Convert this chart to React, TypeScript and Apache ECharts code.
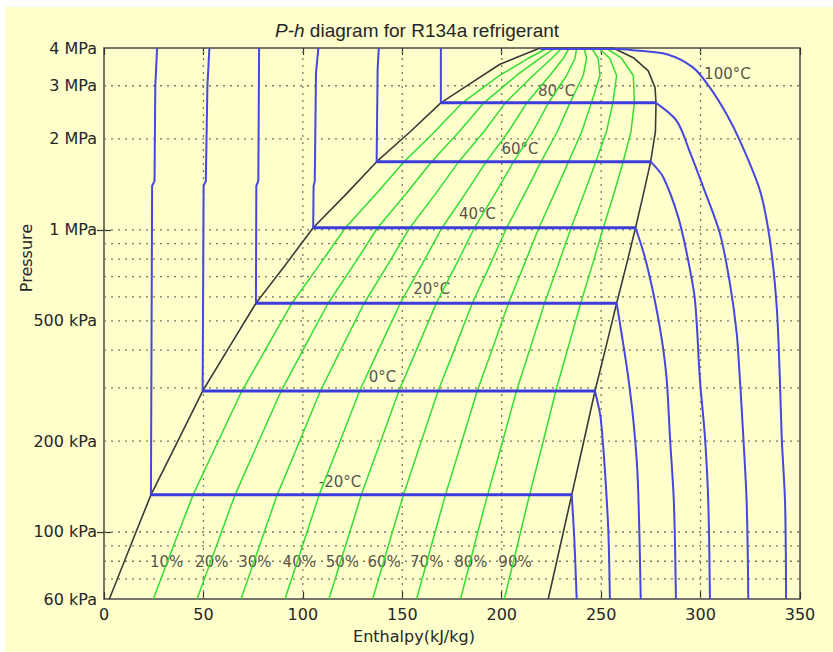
import React, { useEffect, useRef } from 'react';
import * as echarts from 'echarts';

// ---------- axis ticks ----------
const xMin = 0;
const xMax = 350;
const xInterval = 50;
const pMin = 60; // kPa
const pMax = 4000; // kPa
const yTickValues = [60, 100, 200, 500, 1000, 2000, 3000, 4000];
const yTickLabels = ['60 kPa', '100 kPa', '200 kPa', '500 kPa', '1 MPa', '2 MPa', '3 MPa', '4 MPa'];
const yMajorTicks = [100, 1000];
const hGridPressures = [70, 80, 90, 100, 200, 300, 400, 500, 600, 700, 800, 900, 1000, 2000, 3000];
const vGridEnthalpy = [50, 100, 150, 200, 250, 300];

// ---------- saturation dome (h kJ/kg, P kPa) ----------
const liquidP = [60, 100, 132.7, 200, 292.8, 414.6, 571.7, 770.2, 1016.6, 1317.9, 1681.8, 2116.8, 2633.2, 2997, 3534, 4000];
const liquidH = [2.7, 16.1, 23.6, 37.1, 49.6, 63.5, 76.4, 91.5, 105.2, 122.0, 137.1, 154.1, 169.4, 182.4, 199.1, 219.3];
const vaporP = [60, 100, 132.7, 200, 292.8, 414.6, 571.7, 770.2, 1016.6, 1317.9, 1681.8, 2116.8, 2633.2, 2958, 3360, 3716, 4000];
const vaporH = [223.4, 231.0, 235.2, 241.3, 246.9, 252.6, 257.8, 262.8, 267.3, 271.3, 274.9, 277.3, 277.6, 277.1, 273.7, 266.2, 256.1];

// ---------- isotherms ----------
const satTemps = ['-20°C', '0°C', '20°C', '40°C', '60°C', '80°C'];
const satPressure = [132.7, 292.8, 571.7, 1016.6, 1681.8, 2633.2];
const satLiquidH = [23.6, 49.6, 76.4, 105.2, 137.1, 169.4];
const satVaporH = [235.2, 246.9, 257.8, 267.3, 274.9, 277.6];
// compressed-liquid part, from the top of the chart down to saturation
const liquidParts = [
  [[26.7, 4000], [25.8, 3000], [25.4, 1450], [24.2, 1400]],
  [[53.0, 4000], [52.0, 3000], [51.2, 1450], [50.1, 1400]],
  [[78.0, 4000], [77.6, 1450], [76.6, 1400]],
  [[107.8, 4000], [106.6, 3300], [106.0, 1450], [105.4, 1400]],
  [[138.2, 4000], [137.6, 3400]],
  [[169.4, 4000]],
];
// superheated part, from saturated vapour down to 60 kPa
const superheatParts = [
  [[236.5, 95], [237.7, 60]],
  [[249.4, 247], [250.3, 220], [251.9, 160.1], [253.6, 101.4], [254.4, 60]],
  [[260.3, 453], [263.5, 330], [266.2, 234.2], [268.2, 160.1], [269.2, 101.4], [269.9, 60]],
  [[272.0, 811], [277.0, 584], [280.6, 430], [283.0, 317.5], [284.6, 206.3], [286.6, 124.3], [287.6, 60]],
  [[281.3, 1491], [288.8, 1100], [293.8, 791], [297.2, 584], [299.7, 317.5], [302.2, 206.3], [303.9, 124.3], [304.7, 60]],
  [[288.0, 2296], [294.4, 1827], [301.4, 1382], [309.8, 969], [314.8, 663], [318.2, 453], [319.8, 317.5], [321.5, 206.3], [323.2, 124.3], [324.0, 60]],
];
const iso100 = [[219.3, 3972], [258.0, 3972], [266.2, 3932], [283.0, 3814], [296.3, 3444], [304.7, 2958], [313.1, 2416], [319.8, 1972], [329.9, 1348], [334.9, 921], [338.3, 555], [339.9, 317.5], [340.8, 206.3], [342.5, 124.3], [343.0, 60]];

// ---------- constant quality lines ----------
const qualityNames = ['10%', '20%', '30%', '40%', '50%', '60%', '70%', '80%', '90%'];
const qualityP = [60, 100, 132.7, 200, 292.8, 414.6, 571.7, 770.2, 1016.6, 1317.9, 1681.8, 2116.8, 2633.2, 3244.2, 3700, 4000];
const qualityH = [
  [24.8, 37.6, 44.8, 57.5, 69.3, 82.4, 94.5, 108.6, 121.4, 136.9, 150.9, 166.4, 180.2, 199.0, 213.5, 223.0],
  [46.8, 59.1, 65.9, 77.9, 89.1, 101.3, 112.7, 125.8, 137.6, 151.9, 164.7, 178.7, 191.0, 207.4, 219.4, 226.7],
  [68.9, 80.6, 87.1, 98.4, 108.8, 120.2, 130.8, 142.9, 153.8, 166.8, 178.4, 191.1, 201.8, 215.8, 225.2, 230.3],
  [91.0, 102.1, 108.2, 118.8, 128.5, 139.1, 149.0, 160.0, 170.0, 181.7, 192.2, 203.4, 212.6, 224.2, 231.0, 234.0],
  [113.1, 123.6, 129.4, 139.2, 148.3, 158.1, 167.1, 177.2, 186.3, 196.7, 206.0, 215.7, 223.5, 232.6, 236.9, 237.7],
  [135.1, 145.0, 150.6, 159.6, 168.0, 177.0, 185.2, 194.3, 202.5, 211.6, 219.8, 228.0, 234.3, 241.0, 242.7, 241.4],
  [157.2, 166.5, 171.7, 180.0, 187.7, 195.9, 203.4, 211.4, 218.7, 226.5, 233.6, 240.3, 245.1, 249.4, 248.5, 245.1],
  [179.3, 188.0, 192.9, 200.5, 207.4, 214.8, 221.5, 228.5, 234.9, 241.4, 247.3, 252.7, 255.9, 257.8, 254.3, 248.7],
  [201.3, 209.5, 214.0, 220.9, 227.2, 233.7, 239.7, 245.7, 251.1, 256.4, 261.1, 265.0, 266.7, 266.2, 260.2, 252.4],
];

// ---------- annotation anchors (h, P) ----------
const tempLabelText = ['100°C', '80°C', '60°C', '40°C', '20°C', '0°C', '-20°C'];
const tempLabelH = [313.5, 227.6, 209.2, 187.8, 164.8, 140.0, 118.7];
const tempLabelP = [3276, 2885, 1851, 1129, 638, 325.6, 146.4];
const qualityLabelH = [31.5, 54.2, 75.9, 98.2, 119.9, 140.9, 162.3, 184.5, 206.7];
const qualityLabelP = 79.7;

const L = (p: number) => Math.log10(p);
const toXY = (pts: number[][]) => pts.map(([h, p]) => [h, L(p)]);

const FONT = 'DejaVu Sans';
const TEXT = '#262626';
const BG = '#FFFFCC';
const BLUE = '#4646E0';
const GREEN = '#33DD33';

export default function App() {
  const ref = useRef<HTMLDivElement>(null);

  useEffect(() => {
    if (!ref.current) return;
    const chart = echarts.init(ref.current, undefined, { renderer: 'svg' });

    const gridStyle = { color: '#77776a', width: 1.3, type: [2, 5] as any };
    const series: any[] = [];

    hGridPressures.forEach((p) => {
      series.push({
        type: 'line', silent: true, symbol: 'none',
        lineStyle: gridStyle,
        data: [[xMin, L(p)], [xMax, L(p)]],
      });
    });
    vGridEnthalpy.forEach((h) => {
      series.push({
        type: 'line', silent: true, symbol: 'none',
        lineStyle: gridStyle,
        data: [[h, L(pMin)], [h, L(pMax)]],
      });
    });

    qualityH.forEach((row, i) => {
      series.push({
        name: qualityNames[i], type: 'line', silent: true, symbol: 'none',
        lineStyle: { color: GREEN, width: 1.5 },
        data: row.map((h, j) => [h, L(qualityP[j])]),
      });
    });

    const dome = [
      ...liquidH.map((h, i) => [h, L(liquidP[i])]),
      ...vaporH.map((h, i) => [h, L(vaporP[i])]).reverse(),
    ];
    series.push({
      name: 'saturation', type: 'line', silent: true, symbol: 'none',
      lineStyle: { color: '#3a3a3a', width: 1.6 },
      data: dome,
    });

    satTemps.forEach((t, i) => {
      const sat = [[satLiquidH[i], satPressure[i]], [satVaporH[i], satPressure[i]]];
      // compressed liquid + two-phase plateau
      series.push({
        name: t, type: 'line', silent: true, symbol: 'none',
        lineStyle: { color: BLUE, width: 2 },
        data: toXY([...liquidParts[i], sat[0]]),
      });
      series.push({
        name: t, type: 'line', silent: true, symbol: 'none',
        lineStyle: { color: '#3c3cdc', width: 3 },
        data: toXY(sat),
      });
      // superheated vapour
      series.push({
        name: t, type: 'line', silent: true, symbol: 'none', smooth: 0.3,
        lineStyle: { color: BLUE, width: 2 },
        data: toXY([sat[1], ...superheatParts[i]]),
      });
    });
    series.push({
      name: '100°C', type: 'line', silent: true, symbol: 'none', smooth: 0.3,
      lineStyle: { color: BLUE, width: 2 },
      data: toXY(iso100),
    });

    series.push({
      type: 'scatter', silent: true, symbolSize: 0,
      label: { show: true, position: 'inside', formatter: '{b}', fontFamily: FONT, fontSize: 15, color: TEXT },
      data: tempLabelText.map((t, i) => ({ name: t, value: [tempLabelH[i], L(tempLabelP[i])] })),
    });
    series.push({
      type: 'scatter', silent: true, symbolSize: 0,
      label: {
        show: true, position: 'inside', formatter: '{b}', fontFamily: FONT, fontSize: 15, color: TEXT,
        backgroundColor: BG, padding: [2, 1],
      },
      data: qualityNames.map((t, i) => ({ name: t, value: [qualityLabelH[i], L(qualityLabelP)] })),
    });

    const yLabelMap: Record<string, string> = {};
    yTickValues.forEach((v, i) => { yLabelMap[String(v)] = yTickLabels[i]; });

    const xAxisBase = {
      type: 'value', min: xMin, max: xMax, interval: xInterval,
      axisLine: { show: false }, splitLine: { show: false },
      axisTick: { show: true, inside: true, length: 7, lineStyle: { color: '#333', width: 1.2 } },
    };
    const yAxisBase = {
      type: 'value', min: L(pMin), max: L(pMax),
      axisLine: { show: false }, splitLine: { show: false },
      axisTick: { show: true, inside: true, length: 7, customValues: yMajorTicks.map(L), lineStyle: { color: '#333', width: 1.2 } },
    };

    chart.setOption({
      animation: false,
      backgroundColor: BG,
      title: {
        text: '{i|P-h} diagram for R134a refrigerant',
        left: 270, top: 14, padding: 0,
        textStyle: {
          fontFamily: 'Liberation Sans', fontSize: 19, fontWeight: 'normal', color: TEXT,
          rich: { i: { fontFamily: 'Liberation Sans', fontSize: 19, fontStyle: 'italic', color: TEXT } },
        },
      },
      grid: {
        left: 99, top: 41, width: 696, height: 551,
        show: true, borderColor: '#4a4a4a', borderWidth: 1.5, backgroundColor: 'transparent',
      },
      xAxis: [
        {
          ...xAxisBase, position: 'bottom',
          axisLabel: { show: true, margin: 7, fontFamily: FONT, fontSize: 16, color: TEXT },
        },
        { ...xAxisBase, position: 'top', axisLabel: { show: false } },
      ],
      yAxis: [
        {
          ...yAxisBase, position: 'left',
          axisLabel: {
            show: true, margin: 7, fontFamily: FONT, fontSize: 16, color: TEXT,
            customValues: yTickValues.map(L),
            formatter: (v: number) => yLabelMap[String(Math.round(Math.pow(10, v)))] ?? '',
          },
        },
        { ...yAxisBase, position: 'right', axisLabel: { show: false } },
      ],
      graphic: [
        {
          type: 'text', x: 21, y: 251, rotation: Math.PI / 2,
          style: { text: 'Pressure', fontFamily: FONT, fontSize: 16, fill: TEXT, textAlign: 'center', textVerticalAlign: 'middle', align: 'center', verticalAlign: 'middle' },
        },
        {
          type: 'text', x: 409, y: 629,
          style: { text: 'Enthalpy(kJ/kg)', fontFamily: FONT, fontSize: 16, fill: TEXT, textAlign: 'center', textVerticalAlign: 'middle', align: 'center', verticalAlign: 'middle' },
        },
      ],
      series,
    });

    return () => chart.dispose();
  }, []);

  return (
    <div
      ref={ref}
      style={{ position: 'fixed', left: 5, top: 7, width: 828, height: 645 }}
    />
  );
}
